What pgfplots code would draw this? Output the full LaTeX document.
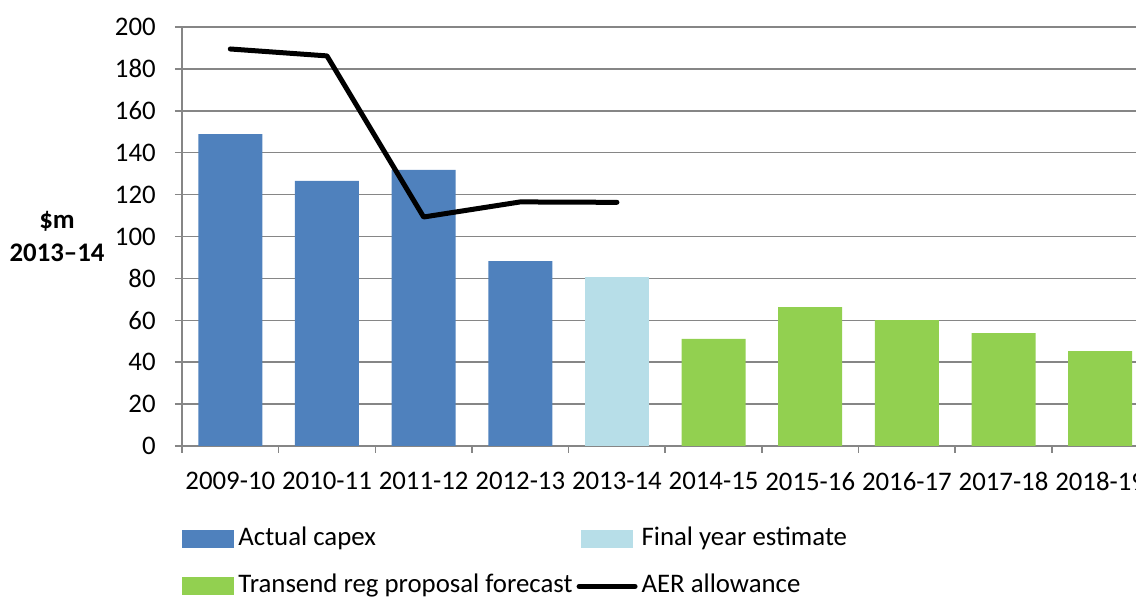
\documentclass[border=0pt]{standalone}
\usepackage{fontspec}
\setmainfont{Carlito}
\usepackage{pgfplots}
\pgfplotsset{compat=1.18}

\definecolor{capexblue}{HTML}{4F81BD}
\definecolor{estblue}{HTML}{B7DEE8}
\definecolor{fcgreen}{HTML}{92D050}
\definecolor{gridgrey}{HTML}{868686}

\begin{document}
\fontsize{13.4pt}{16pt}\selectfont
\begin{tikzpicture}
\begin{axis}[
  at={(91pt,75.5pt)}, anchor=south west,
  scale only axis, width=483.25pt, height=209.5pt,
  xmin=-0.5, xmax=9.5, ymin=0, ymax=200,
  ytick={0,20,...,200},
  xtick={0,...,9},
  xticklabels={2009-10,2010-11,2011-12,2012-13,2013-14,2014-15,2015-16,2016-17,2017-18,2018-19},
  minor xtick={-0.5,0.5,...,9.5},
  axis lines=left,
  axis line style={gridgrey, line width=0.75pt, -},
  ymajorgrids, grid style={gridgrey, line width=0.75pt},
  tick align=outside, major tick length=3.5pt, minor tick length=3.5pt,
  tick style={gridgrey, line width=0.75pt},
  major x tick style={draw=none},
  /pgf/number format/assume math mode=true,
  tick label style={font=\fontsize{13.4pt}{16pt}\selectfont},
  y tick label style={xshift=-5pt},
  x tick label style={yshift=-5pt},
  ylabel={\$m\\2013--14},
  every axis y label/.style={at={(axis description cs:-0.1293,0.5)}, anchor=center,
    align=center, font=\bfseries\fontsize{13.4pt}{16.5pt}\selectfont},
  legend columns=2,
  legend cell align=left,
  legend style={at={(axis description cs:0,0)}, anchor=north west, yshift=-36.5pt,
    draw=none, fill=none, inner sep=0pt, column sep=0pt, row sep=3.5pt,
    font=\fontsize{13.4pt}{16pt}\selectfont,
    nodes={inner xsep=2pt, inner ysep=4pt, text height=9pt, text depth=3pt}},
]
% actual capex
\addplot[ybar, bar width=32pt, bar shift=0pt, fill=capexblue, draw=none,
  legend image code/.code={\fill[capexblue] (0pt,-4.5pt) rectangle (26pt,4.5pt);}]
  coordinates {(0,148.9) (1,126.5) (2,131.8) (3,88.3)};
\addlegendentry{Actual capex}
% final year estimate
\addplot[ybar, bar width=32pt, bar shift=0pt, fill=estblue, draw=none,
  legend image code/.code={\fill[estblue] (0pt,-4.5pt) rectangle (26pt,4.5pt);}]
  coordinates {(4,80.7)};
\addlegendentry{Final year estimate}
% forecast
\addplot[ybar, bar width=32pt, bar shift=0pt, fill=fcgreen, draw=none,
  legend image code/.code={\fill[fcgreen] (0pt,-4.5pt) rectangle (26pt,4.5pt);}]
  coordinates {(5,51.1) (6,66.3) (7,60.1) (8,53.9) (9,45.3)};
\addlegendentry{Transend reg proposal forecast}
% allowance
\addplot[black, line width=2.5pt, line cap=round, line join=round,
  legend image code/.code={\draw[black, line width=2.5pt, line cap=round] (-1pt,0pt) -- (27pt,0pt);}]
  coordinates {(0,189.5) (1,186.2) (2,109.3) (3,116.5) (4,116.3)};
\addlegendentry{AER allowance}
\end{axis}
\pgfresetboundingbox
\path[use as bounding box] (0,0) rectangle (568pt,298.5pt);
\end{tikzpicture}
\end{document}
